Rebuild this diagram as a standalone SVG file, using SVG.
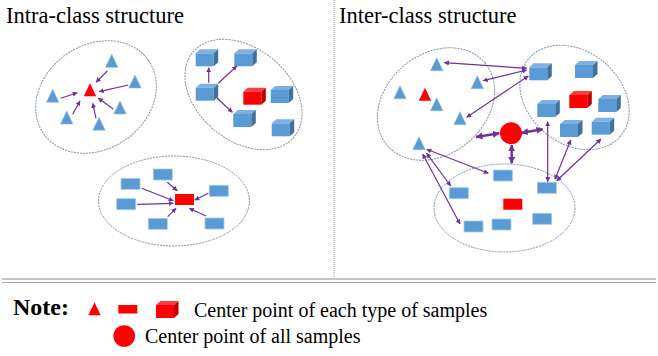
<svg xmlns="http://www.w3.org/2000/svg" xmlns:xlink="http://www.w3.org/1999/xlink" width="658" height="356" viewBox="0 0 658 356">
<style>
text{font-family:'Liberation Serif','DejaVu Serif',serif;fill:#000}
.title{font-size:22.5px}
.note{font-size:24px;font-weight:bold}
.leg{font-size:20px}
.ell{fill:none;stroke:#7f93ad;stroke-width:1;stroke-dasharray:2 1}
.bt{fill:#5b9bd5;stroke:#8dbbe6;stroke-width:0.6}
.rt{fill:#ff0000}
.br{fill:#5b9bd5;stroke:#a9c9ea;stroke-width:0.8}
.rr{fill:#ff0000}
.bf{fill:#5b9bd5}.btp{fill:#7eb1e2}.bsd{fill:#41719c}
.rf{fill:#ff0000}.rtp{fill:#ff3b3b}.rsd{fill:#c00000}
.cn{stroke:#7030a0;stroke-width:1.2;fill:none}
.cnk{stroke:#7030a0;stroke-width:2.4;fill:none}
</style>
<defs>
<path id="tri" d="M0,0 L6.2,13 L-6.2,13 Z"/>
<g id="cubeB"><rect class="bf" x="0" y="4" width="18" height="13"/><polygon class="btp" points="0,4 4.5,0 22.5,0 18,4"/><polygon class="bsd" points="18,4 22.5,0 22.5,13 18,17"/></g>
<g id="cubeR"><rect class="rf" x="0" y="4" width="18" height="13"/><polygon class="rtp" points="0,4 4.5,0 22.5,0 18,4"/><polygon class="rsd" points="18,4 22.5,0 22.5,13 18,17"/></g>
<marker id="ah" viewBox="0 0 6 6" refX="5.5" refY="3" markerWidth="5" markerHeight="5" markerUnits="userSpaceOnUse" orient="auto-start-reverse"><path d="M0,0 L6,3 L0,6 Z" fill="#7030a0"/></marker>
<marker id="ahk" viewBox="0 0 6 6" refX="5.5" refY="3" markerWidth="7" markerHeight="7" markerUnits="userSpaceOnUse" orient="auto-start-reverse"><path d="M0,0 L6,3 L0,6 Z" fill="#7030a0"/></marker>
</defs>

<g id="frame">
<line x1="334" y1="0" x2="334" y2="278" stroke="#8a9ab5" stroke-width="1" stroke-dasharray="1 1"/>
<line x1="2" y1="279" x2="656" y2="279" stroke="#8c8c8c" stroke-width="1.2"/>
<line x1="2" y1="282.5" x2="656" y2="282.5" stroke="#a6a6a6" stroke-width="1.2"/>
</g>

<text class="title" x="6" y="23" font-family="Liberation Serif, serif">Intra-class structure</text>
<text class="title" x="339" y="23" font-family="Liberation Serif, serif">Inter-class structure</text>

<g id="tri-cluster-left">
<ellipse class="ell" cx="96" cy="97" rx="64" ry="52" transform="rotate(-35 96 97)"/>
<use xlink:href="#tri" class="bt" x="111.7" y="54.3"/>
<use xlink:href="#tri" class="bt" x="135" y="75"/>
<use xlink:href="#tri" class="bt" x="52.7" y="89.3"/>
<use xlink:href="#tri" class="bt" x="66.7" y="111"/>
<use xlink:href="#tri" class="bt" x="99" y="117.3"/>
<use xlink:href="#tri" class="bt" x="120" y="101"/>
<use xlink:href="#tri" class="rt" x="90" y="83.3"/>
</g>

<g id="cube-cluster-left">
<ellipse class="ell" cx="243.5" cy="94.5" rx="66" ry="46" transform="rotate(40 243.5 94.5)"/>
<use xlink:href="#cubeB" x="195.7" y="49.3"/>
<use xlink:href="#cubeB" x="234.3" y="49.3"/>
<use xlink:href="#cubeB" x="195.7" y="83.7"/>
<use xlink:href="#cubeB" x="233.3" y="110"/>
<use xlink:href="#cubeR" x="243.3" y="87.7"/>
<use xlink:href="#cubeB" x="270.7" y="86"/>
<use xlink:href="#cubeB" x="271.7" y="119.3"/>
</g>

<g id="rect-cluster-left">
<ellipse class="ell" cx="174" cy="201" rx="75.5" ry="45"/>
<rect class="br" x="153.3" y="169" width="19" height="11"/>
<rect class="br" x="121" y="178.3" width="19" height="11"/>
<rect class="br" x="116.7" y="198.7" width="19" height="11"/>
<rect class="br" x="148.3" y="218.3" width="19" height="11"/>
<rect class="br" x="209.3" y="185.3" width="19" height="11"/>
<rect class="br" x="205" y="218" width="19" height="11"/>
<rect class="rr" x="175" y="194" width="19" height="11"/>
</g>

<g id="tri-cluster-right">
<ellipse class="ell" cx="436" cy="104" rx="64" ry="50" transform="rotate(-40 436 104)"/>
<use xlink:href="#tri" class="bt" x="436.7" y="57.7"/>
<use xlink:href="#tri" class="bt" x="477.3" y="75.7"/>
<use xlink:href="#tri" class="bt" x="400" y="85.7"/>
<use xlink:href="#tri" class="bt" x="436.7" y="97.7"/>
<use xlink:href="#tri" class="bt" x="460" y="111.7"/>
<use xlink:href="#tri" class="bt" x="419" y="136.7"/>
<use xlink:href="#tri" class="rt" x="425" y="87.7"/>
</g>

<g id="cube-cluster-right">
<ellipse class="ell" cx="574.5" cy="97.5" rx="60" ry="46" transform="rotate(40 574.5 97.5)"/>
<use xlink:href="#cubeB" x="529.3" y="63.3"/>
<use xlink:href="#cubeB" x="575" y="61"/>
<use xlink:href="#cubeR" x="569.3" y="91"/>
<use xlink:href="#cubeB" x="598.3" y="95"/>
<use xlink:href="#cubeB" x="537.3" y="100"/>
<use xlink:href="#cubeB" x="560" y="120"/>
<use xlink:href="#cubeB" x="591.7" y="117.7"/>
</g>

<g id="rect-cluster-right">
<ellipse class="ell" cx="504.5" cy="208" rx="70.5" ry="44"/>
<rect class="br" x="493.3" y="170" width="19" height="11"/>
<rect class="br" x="537.3" y="182.3" width="19" height="11"/>
<rect class="br" x="449.3" y="187.7" width="19" height="11"/>
<rect class="br" x="532.7" y="213.3" width="19" height="11"/>
<rect class="br" x="464" y="221" width="19" height="11"/>
<rect class="br" x="492" y="219" width="19" height="11"/>
<rect class="rr" x="503.3" y="198.7" width="19" height="11"/>
</g>

<g id="global-center">
<circle cx="511" cy="133.3" r="11" fill="#ff0000"/>
</g>

<g id="connectors">
<g class="cn" marker-end="url(#ah)">
<line x1="107.3" y1="71" x2="96" y2="82.3"/>
<line x1="128.3" y1="85" x2="99.3" y2="91.7"/>
<line x1="60.7" y1="98.3" x2="77.3" y2="92.7"/>
<line x1="72.7" y1="114.3" x2="80" y2="101"/>
<line x1="96" y1="118.3" x2="92.7" y2="103.3"/>
<line x1="113.3" y1="109" x2="98.3" y2="98.3"/>
<line x1="208.7" y1="82.7" x2="208.7" y2="67.7"/>
<line x1="218.3" y1="83.3" x2="236.7" y2="66"/>
<line x1="216.7" y1="97.7" x2="232.3" y2="112.3"/>
<line x1="167.3" y1="182.3" x2="177.3" y2="190.7"/>
<line x1="141.7" y1="188.3" x2="173.3" y2="200.7"/>
<line x1="137.3" y1="204.3" x2="173.3" y2="203.3"/>
<line x1="167.7" y1="216.7" x2="176" y2="208.3"/>
<line x1="208.3" y1="193.3" x2="194.7" y2="200"/>
<line x1="206" y1="216" x2="189.3" y2="208.3"/>
</g>
<g class="cn" marker-start="url(#ah)" marker-end="url(#ah)">
<line x1="526.7" y1="68.3" x2="444.3" y2="62.7"/>
<line x1="526.7" y1="70" x2="483.3" y2="80.7"/>
<line x1="528.3" y1="76" x2="466.7" y2="117.3"/>
<line x1="547.7" y1="181.7" x2="547.7" y2="121.7"/>
<line x1="555" y1="179.3" x2="570.7" y2="140"/>
<line x1="556.7" y1="180.7" x2="601" y2="139"/>
<line x1="488.3" y1="173.3" x2="426.7" y2="149.3"/>
<line x1="450.7" y1="186" x2="426.7" y2="153.3"/>
<line x1="460" y1="224" x2="422.7" y2="154"/>
</g>
<g class="cnk" marker-start="url(#ahk)" marker-end="url(#ahk)">
<line x1="499.3" y1="133.3" x2="476" y2="137"/>
<line x1="521.7" y1="132.7" x2="542.7" y2="129.3"/>
<line x1="511.7" y1="145" x2="511.7" y2="163.3"/>
</g>
</g>

<g id="legend">
<text class="note" x="13" y="315">Note:</text>
<use xlink:href="#tri" class="rt" x="94.5" y="302.3"/>
<rect class="rr" x="118.3" y="305" width="19" height="8.5"/>
<use xlink:href="#cubeR" x="156" y="301"/>
<text class="leg" x="194" y="317">Center point of each type of samples</text>
<circle cx="124.2" cy="336" r="10.8" fill="#ff0000"/>
<text class="leg" x="145" y="343">Center point of all samples</text>
</g>
</svg>
